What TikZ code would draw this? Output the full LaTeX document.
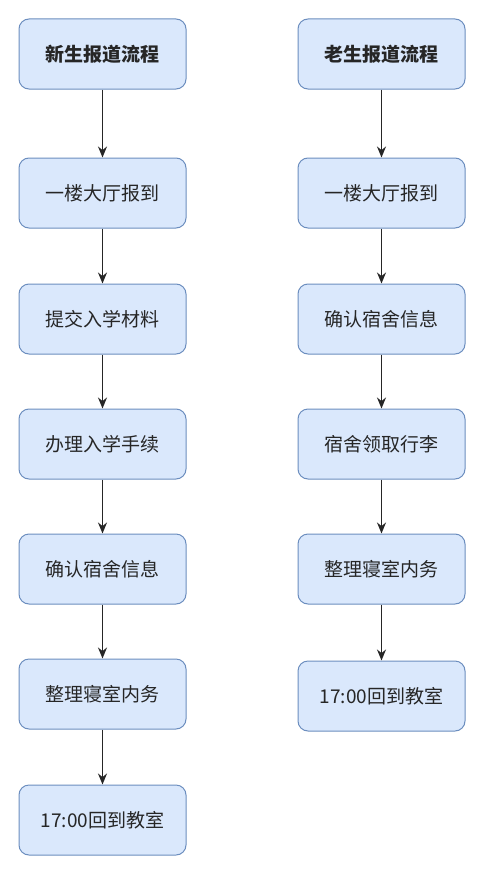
\documentclass[tikz,border=0pt]{standalone}
\usepackage{fontspec}
\setmainfont{Noto Sans CJK SC}
\usetikzlibrary{arrows.meta}
\begin{document}
\begin{tikzpicture}[x=1pt,y=-1pt,
  box/.style={draw=boxdraw,fill=boxfill,line width=1pt,rounded corners=10pt,
    minimum width=167pt,minimum height=70pt,inner sep=0pt,
    font=\fontsize{19}{22}\selectfont,text=black!85},
  title/.style={box,font=\fontsize{19}{22}\selectfont\bfseries},
  conn/.style={-{Stealth[length=11pt,width=9pt]},line width=1.3pt,black!85}]
\definecolor{boxfill}{HTML}{DAE8FC}
\definecolor{boxdraw}{HTML}{6C8EBF}
\useasboundingbox (0,0) rectangle (500,875);
\fill[white] (0,0) rectangle (500,875);
% left column
\node[title] (l1) at (102.5,54) {新生报道流程};
\node[box] (l2) at (102.5,193) {一楼大厅报到};
\node[box] (l3) at (102.5,319) {提交入学材料};
\node[box] (l4) at (102.5,444) {办理入学手续};
\node[box] (l5) at (102.5,569) {确认宿舍信息};
\node[box] (l6) at (102.5,694) {整理寝室内务};
\node[box] (l7) at (102.5,820) {17:00回到教室};
% right column
\node[title] (r1) at (381.5,54) {老生报道流程};
\node[box] (r2) at (381.5,193) {一楼大厅报到};
\node[box] (r3) at (381.5,319) {确认宿舍信息};
\node[box] (r4) at (381.5,444) {宿舍领取行李};
\node[box] (r5) at (381.5,569) {整理寝室内务};
\node[box] (r6) at (381.5,696) {17:00回到教室};
\foreach \a/\b in {l1/l2,l2/l3,l3/l4,l4/l5,l5/l6,l6/l7,r1/r2,r2/r3,r3/r4,r4/r5,r5/r6}
  \draw[conn] (\a) -- (\b);
\end{tikzpicture}
\end{document}
